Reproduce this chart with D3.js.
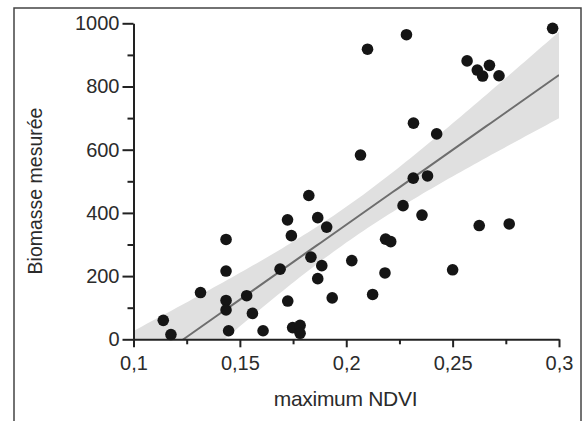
<!DOCTYPE html>
<html lang="fr">
<head>
<meta charset="UTF-8">
<title>Biomasse vs NDVI</title>
<style>
  body { margin: 0; background: #fff; }
  svg { display: block; font-family: "Liberation Sans", Arial, sans-serif; }
  .axe path, .axe line { stroke: #222; stroke-width: 2px; }
  .axe text { fill: #2b2b2b; font-size: 20px; }
  .titre { fill: #2b2b2b; font-size: 20px; }
</style>
<script src="https://d3js.org/d3.v7.min.js"></script>
</head>
<body>
<script>
// valeurs : NDVI maximum et biomasse mesurée
var ndvi = [0.1140, 0.1176, 0.1315, 0.1435, 0.1435, 0.1435, 0.1435, 0.1447,
            0.1532, 0.1559, 0.1609, 0.1689, 0.1724, 0.1742, 0.1725, 0.1748,
            0.1783, 0.1783, 0.1824, 0.1866, 0.1908, 0.1834, 0.1885, 0.1866,
            0.1934, 0.2026, 0.2067, 0.2100, 0.2124, 0.2185, 0.2209, 0.2182,
            0.2267, 0.2283, 0.2316, 0.2315, 0.2382, 0.2356, 0.2425, 0.2500,
            0.2568, 0.2616, 0.2673, 0.2641, 0.2718, 0.2625, 0.2766, 0.2970];
var biomasse = [60, 15, 148, 316, 216, 123, 93, 27,
                138, 82, 27, 222, 378, 328, 121, 37,
                44, 19, 455, 385, 355, 260, 233, 192,
                131, 249, 583, 918, 142, 317, 309, 210,
                423, 964, 684, 510, 517, 393, 650, 220,
                881, 852, 867, 833, 834, 360, 365, 984];

// graduations
var xTicks = [0.1, 0.15, 0.2, 0.25, 0.3];
var xTickLabels = ["0,1", "0,15", "0,2", "0,25", "0,3"];
var xMinor = [0.125, 0.175, 0.225, 0.275];
var yTicks = [0, 200, 400, 600, 800, 1000];
var yTickLabels = ["0", "200", "400", "600", "800", "1000"];
var yMinor = [100, 300, 500, 700, 900];

var largeur = 582, hauteur = 421;

var svg = d3.select("body").append("svg")
    .attr("width", largeur)
    .attr("height", hauteur);

// cadre autour de la figure
svg.append("rect")
    .attr("x", 14).attr("y", 8)
    .attr("width", 567).attr("height", 440)
    .attr("fill", "none")
    .attr("stroke", "#444")
    .attr("stroke-width", 1.5);

var x = d3.scaleLinear().domain([0.1, 0.3]).range([133.5, 559]);
var y = d3.scaleLinear().domain([0, 1000]).range([339.3, 23.3]);

// régression linéaire + intervalle de confiance à 95 %
var n = ndvi.length;
var mx = d3.mean(ndvi), my = d3.mean(biomasse);
var sxx = d3.sum(ndvi, function(d) { return (d - mx) * (d - mx); });
var sxy = d3.sum(ndvi, function(d, i) { return (d - mx) * (biomasse[i] - my); });
var pente = sxy / sxx;
var origine = my - pente * mx;
var sse = d3.sum(ndvi, function(d, i) {
  var r = biomasse[i] - (origine + pente * d);
  return r * r;
});
var s = Math.sqrt(sse / (n - 2));
var t = 2.013;

var grille = d3.range(0, 101).map(function(i) { return 0.1 + i * 0.002; });
var bande = grille.map(function(v) {
  var yh = origine + pente * v;
  var e = t * s * Math.sqrt(1 / n + (v - mx) * (v - mx) / sxx);
  return {x: v, y: yh, bas: yh - e, haut: yh + e};
});

svg.append("clipPath").attr("id", "zone")
  .append("rect")
    .attr("x", x(0.1)).attr("y", y(1000))
    .attr("width", x(0.3) - x(0.1)).attr("height", y(0) - y(1000));

var trace = svg.append("g").attr("clip-path", "url(#zone)");

trace.append("path")
    .datum(bande)
    .attr("fill", "#e0e0e0")
    .attr("d", d3.area()
      .x(function(d) { return x(d.x); })
      .y0(function(d) { return y(d.bas); })
      .y1(function(d) { return y(d.haut); }));

trace.append("path")
    .datum(bande)
    .attr("fill", "none")
    .attr("stroke", "#6e6e6e")
    .attr("stroke-width", 2)
    .attr("d", d3.line()
      .x(function(d) { return x(d.x); })
      .y(function(d) { return y(d.y); }));

// axes
var axeX = svg.append("g").attr("class", "axe")
    .attr("transform", "translate(0," + y(0) + ")")
    .call(d3.axisBottom(x).tickValues(xTicks).tickSize(8).tickSizeOuter(0).tickPadding(9)
      .tickFormat(function(d, i) { return xTickLabels[i]; }));
svg.append("g").attr("class", "axe")
    .attr("transform", "translate(0," + y(0) + ")")
    .call(d3.axisBottom(x).tickValues(xMinor).tickSize(5).tickSizeOuter(0).tickFormat(""))
    .select(".domain").remove();

svg.append("g").attr("class", "axe")
    .attr("transform", "translate(" + x(0.1) + ",0)")
    .call(d3.axisLeft(y).tickValues(yTicks).tickSize(11).tickSizeOuter(0).tickPadding(3)
      .tickFormat(function(d, i) { return yTickLabels[i]; }));
svg.append("g").attr("class", "axe")
    .attr("transform", "translate(" + x(0.1) + ",0)")
    .call(d3.axisLeft(y).tickValues(yMinor).tickSize(6).tickSizeOuter(0).tickFormat(""))
    .select(".domain").remove();

// points
svg.append("g").selectAll("circle")
    .data(ndvi)
    .enter().append("circle")
    .attr("cx", function(d) { return x(d); })
    .attr("cy", function(d, i) { return y(biomasse[i]); })
    .attr("r", 5.8)
    .attr("fill", "#151515");

// titres des axes
svg.append("text").attr("class", "titre")
    .attr("x", 345.5).attr("y", 406)
    .attr("text-anchor", "middle")
    .style("font-size", "21px")
    .style("letter-spacing", "-0.3px")
    .text("maximum NDVI");

svg.append("text").attr("class", "titre")
    .attr("transform", "translate(42,191) rotate(-90)")
    .attr("text-anchor", "middle")
    .style("font-size", "19.5px")
    .text("Biomasse mesurée");
</script>
</body>
</html>
